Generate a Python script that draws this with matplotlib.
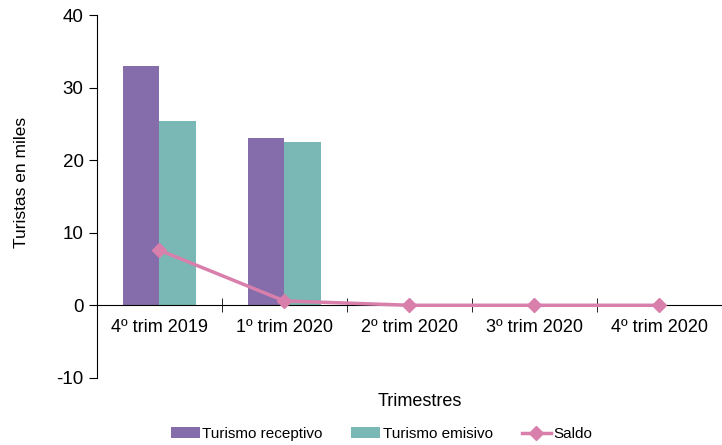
import numpy as np
import matplotlib
matplotlib.use("Agg")
import matplotlib.pyplot as plt

plt.rcParams['font.family'] = ['Liberation Sans', 'DejaVu Sans']
plt.rcParams['axes.unicode_minus'] = False

trimestres = ['4º trim 2019', '1º trim 2020', '2º trim 2020', '3º trim 2020', '4º trim 2020']
receptivo = [33.0, 23.1, 0, 0, 0]
emisivo = [25.4, 22.5, 0, 0, 0]
saldo = [7.6, 0.6, 0, 0, 0]

c_rec = '#856caa'
c_emi = '#79b8b4'
c_sal = '#d87fab'

fig = plt.figure(figsize=(7.22, 4.45), dpi=100)
ax = fig.add_axes([0.134, 0.151, 0.866, 0.815])

x = np.arange(len(trimestres))
w = 0.29
ax.bar(x - w/2, receptivo, w, color=c_rec, label='Turismo receptivo', zorder=2)
ax.bar(x + w/2, emisivo, w, color=c_emi, label='Turismo emisivo', zorder=2)
ax.plot(x, saldo, color=c_sal, lw=2.5, marker='D', ms=7, label='Saldo', zorder=4)

ax.set_xlim(-0.5, len(trimestres) - 0.5)
ax.set_ylim(-10, 40)
ax.set_yticks([-10, 0, 10, 20, 30, 40])

ax.spines['top'].set_visible(False)
ax.spines['right'].set_visible(False)
ax.spines['bottom'].set_position(('data', 0))
ax.spines['bottom'].set_zorder(3)

ax.set_xticks(x)
ax.set_xticklabels(trimestres)
ax.set_xticks(np.arange(0.5, len(trimestres) - 0.5), minor=True)
ax.tick_params(axis='x', which='major', length=0, pad=10, labelsize=13)
ax.tick_params(axis='x', which='minor', length=10, direction='inout')
ax.tick_params(axis='y', length=6, labelsize=13.5)

ax.set_ylabel('Turistas en miles', fontsize=12.5)
ax.yaxis.set_label_coords(-0.108, 0.54)
fig.text(0.582, 0.088, 'Trimestres', ha='center', fontsize=13)

handles, labels = ax.get_legend_handles_labels()
order = [1, 2, 0]
ax.legend([handles[i] for i in order], [labels[i] for i in order],
          loc='center', bbox_to_anchor=(0.528, 0.025), bbox_transform=fig.transFigure,
          ncol=3, frameon=False, fontsize=11, handlelength=1.9, handletextpad=0.15,
          columnspacing=1.9)

plt.savefig('out.png', dpi=100)
